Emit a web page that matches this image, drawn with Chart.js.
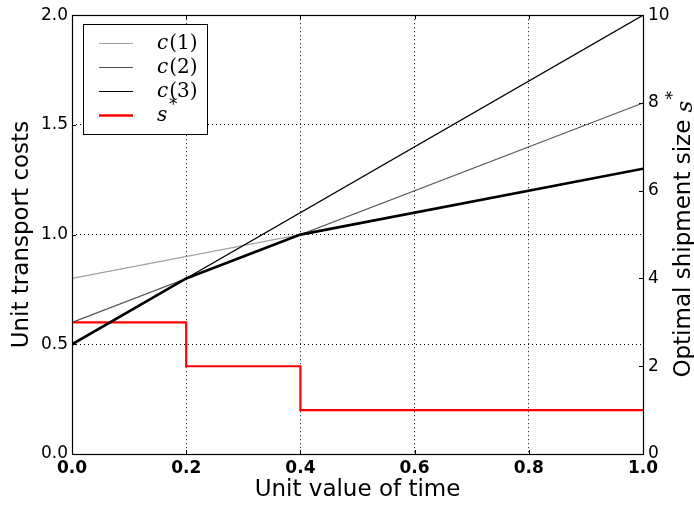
<!DOCTYPE html>
<html>
<head>
<meta charset="utf-8">
<script src="https://cdn.jsdelivr.net/npm/chart.js@4.4.1/dist/chart.umd.min.js"></script>
<style>
  html, body { margin: 0; padding: 0; background: #fff; }
  #wrap { width: 694px; height: 506px; }
</style>
</head>
<body>
<div id="wrap"><canvas id="myChart" width="694" height="506"></canvas></div>
<script>
// data
const xEnds = [0, 1];
const c1 = [0.8, 1.3];
const c2 = [0.6, 1.6];
const c3 = [0.5, 2.0];
const envX = [0, 0.2, 0.4, 1];
const envY = [0.5, 0.8, 1.0, 1.3];
const sX = [0, 0.2, 0.4, 1];
const sY = [3, 2, 1, 1];

const xTicks = [0, 0.2, 0.4, 0.6, 0.8, 1.0];
const yTicks = [0, 0.5, 1.0, 1.5, 2.0];
const y2Ticks = [0, 2, 4, 6, 8, 10];

const legendItems = [
    { sym: "c", arg: "(1)", color: "#a0a0a0", width: 1.2 },
    { sym: "c", arg: "(2)", color: "#505050", width: 1.2 },
    { sym: "c", arg: "(3)", color: "#000000", width: 1.2 },
    { sym: "s", arg: "*", color: "#ff0000", width: 2.5 },
];

const pts = (xs, ys) => xs.map((x, i) => ({ x: x, y: ys[i] }));

const FONT = "'DejaVu Sans', sans-serif";

// dotted grid, but no line on the frame edges
function gridColor(lo, hi) {
    return (ctx) => {
        const v = ctx.tick.value;
        if (Math.abs(v - lo) < 1e-9 || Math.abs(v - hi) < 1e-9) return "rgba(0,0,0,0)";
        return "#000";
    };
}

const framePlugin = {
    id: "frame",
    afterDraw(chart) {
        const { ctx, chartArea: a, scales } = chart;
        ctx.save();
        // inward tick marks
        ctx.strokeStyle = "#000";
        ctx.lineWidth = 1;
        ctx.beginPath();
        xTicks.forEach(v => {
            const px = Math.round(scales.x.getPixelForValue(v)) + 0.5;
            ctx.moveTo(px, a.bottom); ctx.lineTo(px, a.bottom - 4);
            ctx.moveTo(px, a.top); ctx.lineTo(px, a.top + 4);
        });
        yTicks.forEach(v => {
            const py = Math.round(scales.y.getPixelForValue(v)) + 0.5;
            ctx.moveTo(a.left, py); ctx.lineTo(a.left + 4, py);
        });
        y2Ticks.forEach(v => {
            const py = Math.round(scales.y2.getPixelForValue(v)) + 0.5;
            ctx.moveTo(a.right, py); ctx.lineTo(a.right - 4, py);
        });
        ctx.stroke();

        // frame
        ctx.lineWidth = 1.2;
        ctx.strokeRect(Math.round(a.left) + 0.5, Math.round(a.top) + 0.5,
            Math.round(a.right - a.left), Math.round(a.bottom - a.top));

        // right axis title, reading bottom to top
        ctx.translate(684, (a.top + a.bottom) / 2);
        ctx.rotate(-Math.PI / 2);
        ctx.fillStyle = "#000";
        ctx.textBaseline = "middle";
        const t1 = "Optimal shipment size ";
        ctx.font = "23px " + FONT;
        const w1 = ctx.measureText(t1).width;
        ctx.font = "italic 23px 'DejaVu Serif', serif";
        const w2 = ctx.measureText("s").width;
        const total = w1 + w2 + 9;
        let x0 = -total / 2;
        ctx.font = "23px " + FONT;
        ctx.textAlign = "left";
        ctx.fillText(t1, x0, 0);
        ctx.font = "italic 23px 'DejaVu Serif', serif";
        ctx.fillText("s", x0 + w1, 2);
        ctx.font = "17px 'DejaVu Serif', serif";
        ctx.fillText("*", x0 + w1 + w2 + 1, -10);
        ctx.restore();

        // legend box
        ctx.save();
        const bx = 83, by = 24, bw = 124, bh = 110;
        ctx.fillStyle = "#fff";
        ctx.fillRect(bx, by, bw, bh);
        ctx.strokeStyle = "#000";
        ctx.lineWidth = 1;
        ctx.strokeRect(bx + 0.5, by + 0.5, bw, bh);
        const rows = [43, 67, 91, 115];
        legendItems.forEach((it, i) => {
            const y = rows[i] + 0.5;
            ctx.strokeStyle = it.color;
            ctx.lineWidth = it.width;
            ctx.beginPath();
            ctx.moveTo(99, y); ctx.lineTo(133, y);
            ctx.stroke();
            ctx.fillStyle = "#000";
            ctx.textBaseline = "middle";
            ctx.textAlign = "left";
            ctx.font = "italic 20px 'DejaVu Serif', serif";
            ctx.fillText(it.sym, 157, y);
            const sw = ctx.measureText(it.sym).width;
            if (it.arg === "*") {
                ctx.font = "16px 'DejaVu Serif', serif";
                ctx.fillText(it.arg, 157 + sw + 2, y - 10);
            } else {
                ctx.font = "20px 'DejaVu Serif', serif";
                ctx.fillText(it.arg, 157 + sw + 1, y);
            }
        });
        ctx.restore();
    }
};

const data = {
    datasets: [{
        label: "c(1)",
        data: pts(xEnds, c1),
        borderColor: "#a0a0a0",
        borderWidth: 1.2,
        yAxisID: "y",
        order: 3,
    }, {
        label: "c(2)",
        data: pts(xEnds, c2),
        borderColor: "#505050",
        borderWidth: 1.2,
        yAxisID: "y",
        order: 2,
    }, {
        label: "c(3)",
        data: pts(xEnds, c3),
        borderColor: "#000000",
        borderWidth: 1.2,
        yAxisID: "y",
        order: 1,
    }, {
        label: "min",
        data: pts(envX, envY),
        borderColor: "#000000",
        borderWidth: 2.6,
        yAxisID: "y",
        order: 0,
    }, {
        label: "s*",
        data: pts(sX, sY),
        borderColor: "#ff0000",
        borderWidth: 2.2,
        stepped: true,
        yAxisID: "y2",
        order: 0,
    }]
};

const config = {
    type: "line",
    data,
    options: {
        responsive: false,
        animation: false,
        events: [],
        elements: { point: { radius: 0 }, line: { tension: 0, borderCapStyle: "butt" } },
        layout: { padding: { top: 12, left: 0, right: 0, bottom: 0 } },
        plugins: {
            legend: { display: false },
            tooltip: { enabled: false },
        },
        scales: {
            x: {
                type: "linear",
                min: 0, max: 1,
                afterBuildTicks: (s) => { s.ticks = xTicks.map(v => ({ value: v })); },
                afterFit: (s) => { s.height = 52; },
                ticks: {
                    color: "#000",
                    font: { family: FONT, size: 17, weight: "bold" },
                    padding: 4,
                    maxRotation: 0,
                    callback: (v) => v.toFixed(1),
                },
                grid: {
                    color: gridColor(0, 1),
                    borderDash: [1, 3],
                    lineWidth: 1,
                    drawTicks: false,
                },
                border: { display: false, dash: [1, 3] },
                title: {
                    display: true,
                    text: "Unit value of time",
                    color: "#000",
                    font: { family: FONT, size: 23 },
                    padding: { top: 0, bottom: 2 },
                },
            },
            y: {
                type: "linear",
                position: "left",
                min: 0, max: 2,
                afterBuildTicks: (s) => { s.ticks = yTicks.map(v => ({ value: v })); },
                afterFit: (s) => { s.width = 72; },
                ticks: {
                    color: "#000",
                    font: { family: FONT, size: 17 },
                    padding: 4,
                    callback: (v) => v.toFixed(1),
                },
                grid: {
                    color: gridColor(0, 2),
                    borderDash: [1, 3],
                    lineWidth: 1,
                    drawTicks: false,
                },
                border: { display: false, dash: [1, 3] },
                title: {
                    display: true,
                    text: "Unit transport costs",
                    color: "#000",
                    font: { family: FONT, size: 23 },
                    padding: { top: 8, bottom: 0 },
                },
            },
            y2: {
                type: "linear",
                position: "right",
                min: 0, max: 10,
                afterBuildTicks: (s) => { s.ticks = y2Ticks.map(v => ({ value: v })); },
                afterFit: (s) => { s.width = 51; },
                ticks: {
                    color: "#000",
                    font: { family: FONT, size: 17 },
                    padding: 5,
                    callback: (v) => String(v),
                },
                grid: { drawOnChartArea: false, drawTicks: false },
                border: { display: false },
            },
        },
    },
    plugins: [framePlugin],
};

const ctx = document.getElementById("myChart");
let myChart = new Chart(ctx, config);
</script>
</body>
</html>
